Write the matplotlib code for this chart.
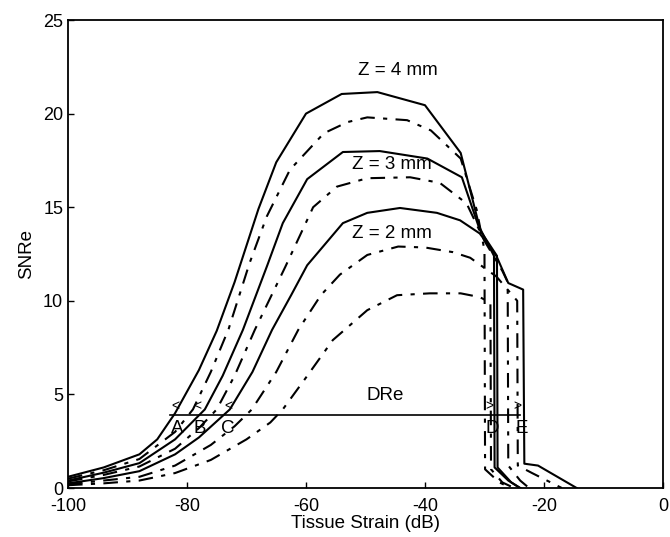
import matplotlib
matplotlib.use("Agg")
import matplotlib.pyplot as plt

plt.rcParams['font.family'] = ['Liberation Sans', 'DejaVu Sans']
plt.rcParams['axes.unicode_minus'] = False

# solid curves (Z = 4, 3, 2 mm)
x_s4 = [-100, -94, -88, -85, -82, -78, -75, -72, -68, -65, -60, -54, -48, -40, -34, -30.8, -28.4, -28.3, -26, -24]
y_s4 = [0.6, 1.1, 1.8, 2.6, 4.0, 6.3, 8.4, 11.0, 14.9, 17.4, 20.0, 21.05, 21.15, 20.45, 17.9, 13.9, 12.4, 1.1, 0.4, 0]

x_s3 = [-100, -94, -88, -82, -77, -74, -70.6, -66.5, -63.9, -59.8, -53.8, -47.6, -39.6, -33.8, -30.8, -27.9, -27.8, -25.5, -24]
y_s3 = [0.4, 0.82, 1.33, 2.6, 4.2, 6.0, 8.45, 11.9, 14.15, 16.5, 17.95, 18.0, 17.6, 16.6, 13.8, 12.4, 1.1, 0.3, 0]

x_s2 = [-100, -94, -88, -82, -78, -72.8, -69, -65.7, -62.5, -59.8, -53.8, -49.7, -44.2, -38, -34.1, -30.8, -28, -26, -23.5, -23.3, -21, -14.5]
y_s2 = [0.25, 0.53, 0.9, 1.8, 2.7, 4.2, 6.2, 8.45, 10.3, 11.9, 14.15, 14.7, 14.96, 14.7, 14.3, 13.6, 12.4, 10.95, 10.6, 1.3, 1.2, 0]

# dash-dot curves
x_d1 = [-100, -94, -88, -82, -79, -76, -73, -69.5, -66.6, -62.7, -57, -53, -49.7, -43, -39, -34, -31.3, -30, -29.9, -27.5, -25.5]
y_d1 = [0.5, 0.95, 1.55, 3.0, 4.2, 6.2, 8.5, 12.0, 14.5, 17.0, 18.95, 19.55, 19.8, 19.65, 19.1, 17.6, 14.85, 12.7, 1.0, 0.3, 0]

x_d2 = [-100, -94, -88, -82, -78, -75, -72, -68.6, -63.5, -58.8, -54.8, -49.7, -42.5, -37.5, -33, -30, -27, -26.1, -26.0, -24, -22.5]
y_d2 = [0.35, 0.7, 1.15, 2.1, 3.2, 4.2, 6.0, 8.45, 11.8, 15.0, 16.1, 16.55, 16.6, 16.3, 15.2, 13.2, 11.6, 11.0, 1.2, 0.4, 0]

x_d3 = [-100, -94, -88, -82, -76, -72, -69.1, -65, -61.3, -57.5, -54.3, -49.7, -44.5, -40, -35.3, -32.4, -28, -24.5, -24.4, -22, -17]
y_d3 = [0.2, 0.4, 0.6, 1.2, 2.3, 3.3, 4.2, 6.2, 8.45, 10.3, 11.4, 12.45, 12.9, 12.85, 12.6, 12.3, 11.3, 10.0, 1.2, 0.8, 0]

x_d4 = [-100, -94, -88, -82, -76, -70, -66, -63.9, -60, -55.5, -49.7, -44.7, -39.2, -34, -30.8, -29, -28.9, -27, -25]
y_d4 = [0.15, 0.25, 0.4, 0.8, 1.5, 2.6, 3.5, 4.2, 5.9, 7.9, 9.5, 10.3, 10.4, 10.4, 10.2, 9.9, 1.0, 0.3, 0]

# dynamic range line and markers
dre_x = [-82.9, -24.0]
dre_y = 3.9
left_marks = [-82.0, -78.2, -73.1]
right_marks = [-29.1, -24.4]
letters = ['A', 'B', 'C', 'D', 'E']
letter_x = [-81.7, -77.8, -73.1, -28.7, -23.7]

x_ticks = [-100, -80, -60, -40, -20, 0]
y_ticks = [0, 5, 10, 15, 20, 25]

fig = plt.figure(figsize=(6.7, 5.37), dpi=100)
ax = fig.add_axes([0.1015, 0.0912, 0.888, 0.8715])

lw = 1.5
dd = (0, (7, 4, 2, 4))
for xs, ys in [(x_s4, y_s4), (x_s3, y_s3), (x_s2, y_s2)]:
    ax.plot(xs, ys, color='black', lw=lw)
for xs, ys in [(x_d1, y_d1), (x_d2, y_d2), (x_d3, y_d3), (x_d4, y_d4)]:
    ax.plot(xs, ys, color='black', lw=lw, linestyle=dd)

ax.plot(dre_x, [dre_y, dre_y], color='black', lw=1.2)
for xm in left_marks:
    ax.text(xm, dre_y + 0.45, '<', ha='center', va='center', fontsize=10)
for xm in right_marks:
    ax.text(xm, dre_y + 0.45, '>', ha='center', va='center', fontsize=10)
for lt, xl in zip(letters, letter_x):
    ax.text(xl, 3.2, lt, ha='center', va='center', fontsize=13.5)
ax.text(-46.7, 4.95, 'DRe', ha='center', va='center', fontsize=13.5)

ax.text(-44.5, 22.3, 'Z = 4 mm', ha='center', va='center', fontsize=13.5)
ax.text(-45.5, 17.3, 'Z = 3 mm', ha='center', va='center', fontsize=13.5)
ax.text(-45.5, 13.6, 'Z = 2 mm', ha='center', va='center', fontsize=13.5)

ax.set_xlim(-100, 0)
ax.set_ylim(0, 25)
ax.set_xticks(x_ticks)
ax.set_yticks(y_ticks)
ax.tick_params(direction='in', length=4, labelsize=13, width=1)
ax.tick_params(axis='x', pad=7)
for s in ax.spines.values():
    s.set_linewidth(1.3)
ax.set_xlabel('Tissue Strain (dB)', fontsize=13.5, labelpad=0)
ax.set_ylabel('SNRe', fontsize=13.5, labelpad=6)

fig.savefig('out.png', dpi=100)
